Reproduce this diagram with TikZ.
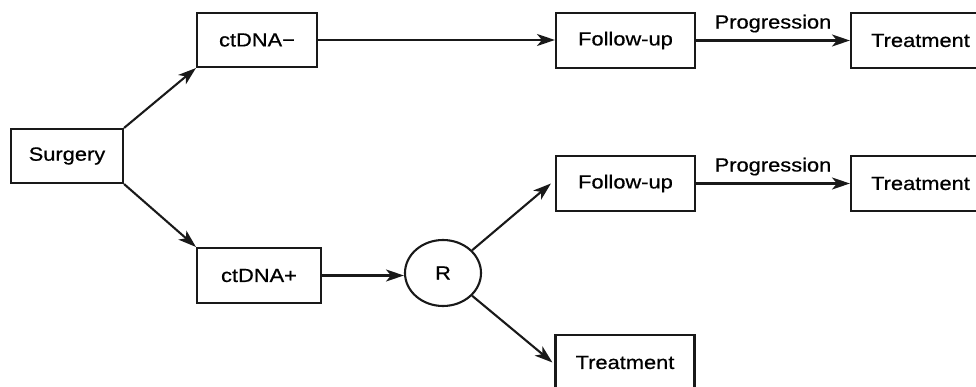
\documentclass[tikz,border=0pt]{standalone}
\usepackage{fontspec}
\setmainfont{Liberation Sans}
\newfontfamily\mf{Liberation Sans}[FakeBold=0.6]
\usepackage{graphicx}
\usetikzlibrary{arrows.meta,shapes.geometric}
\newcommand{\tx}[1]{\scalebox{1.15}[1]{#1}}
\begin{document}
\begin{tikzpicture}[x=1pt,y=-1pt,
  box/.style={draw=black!90, line width=2.1pt, rectangle, inner sep=0pt, font=\mf\fontsize{19}{20}\selectfont},
  conn/.style={draw=black!90, line width=2.1pt, -{Stealth[length=18pt,width=12pt,inset=5pt]}},
  lbl/.style={font=\mf\fontsize{19}{20}\selectfont, inner sep=0pt}]
\useasboundingbox (0,0) rectangle (976,387);
\clip (0,0) rectangle (976,387);
\fill[white] (0,0) rectangle (976,387);
\node[box, minimum width=112pt, minimum height=54pt] (surg) at (67,156) {\tx{Surgery}};
\node[box, minimum width=120pt, minimum height=54pt] (neg) at (257,40) {\tx{ctDNA−}};
\node[box, minimum width=124pt, minimum height=55pt] (pos) at (259,275.5) {\tx{ctDNA+}};
\node[box, minimum width=139pt, minimum height=55pt] (fu1) at (625.5,40.5) {\tx{Follow-up}};
\node[box, minimum width=139pt, minimum height=55pt] (t1) at (920.5,40.5) {\tx{Treatment}};
\node[box, minimum width=139pt, minimum height=55pt] (fu2) at (625.5,183.5) {\tx{Follow-up}};
\node[box, minimum width=139pt, minimum height=55pt] (t2) at (920.5,183.5) {\tx{Treatment}};
\node[box, minimum width=139pt, minimum height=55pt] (t3) at (625,362.5) {\tx{Treatment}};
\node[box, ellipse, minimum width=76pt, minimum height=66pt] (r) at (443,273) {\tx{R}};
\draw[conn] (surg.north east) -- (neg.south west);
\draw[conn] (surg.south east) -- (pos.north west);
\draw[conn] (neg.east) -- (neg.east -| fu1.west);
\draw[conn] (fu1.east) -- node[lbl, above=7pt, midway] {\tx{Progression}} (t1.west);
\draw[conn] (fu2.east) -- node[lbl, above=7pt, midway] {\tx{Progression}} (t2.west);
\draw[conn] (pos.east) -- (pos.east -| r.west);
\draw[conn] (r.38) -- ([xshift=-4pt]fu2.west);
\draw[conn] (r.-38) -- ([xshift=-2pt]t3.west);
\end{tikzpicture}
\end{document}
